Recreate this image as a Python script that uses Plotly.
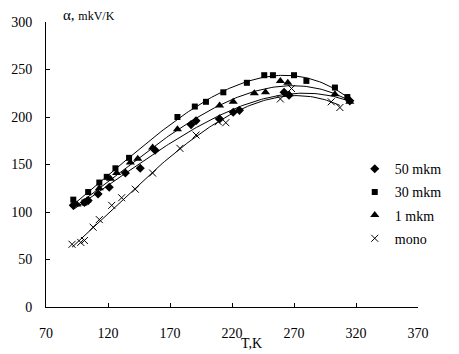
import numpy as np
import plotly.graph_objects as go

# 50 mkm (diamonds)
T_50 = [92, 101, 104, 112, 121, 134, 146, 158, 187, 191, 210, 221, 226, 262, 266, 315]
A_50 = [107, 110, 112, 119, 126, 141, 146, 165, 192, 196, 198, 205, 207, 226, 223, 217]
# 30 mkm (squares)
T_30 = [92, 101, 104, 113, 119, 126, 137, 176, 190, 199, 213, 232, 246, 253, 270, 280, 303, 313]
A_30 = [113, 110, 121, 131, 137, 146, 157, 200, 211, 216, 226, 236, 244, 244, 244, 238, 231, 221]
# 1 mkm (triangles)
T_1 = [95, 103, 113, 122, 127, 138, 144, 156, 176, 210, 221, 238, 247, 259, 265, 303, 315]
A_1 = [108, 112, 125, 135, 141, 152, 156, 168, 187, 212, 216, 225, 226, 238, 236, 224, 216]
# mono (crosses)
T_m = [91, 98, 101, 108, 113, 123, 131, 142, 156, 178, 191, 209, 215, 259, 268, 300, 307]
A_m = [66, 68, 70, 84, 92, 107, 115, 124, 141, 167, 181, 195, 194, 219, 230, 216, 210]

series = [
    ("50 mkm", T_50, A_50, "diamond", 7),
    ("30 mkm", T_30, A_30, "square", 6),
    ("1 mkm", T_1, A_1, "triangle-up", 8),
    ("mono", T_m, A_m, "x-thin", 7),
]

FONT = "Liberation Serif, Times New Roman, serif"
fig = go.Figure()

for name, T, A, sym, sz in series:
    T = np.array(T, float)
    A = np.array(A, float)
    c = np.polyfit(T, A, 3)
    tt = np.linspace(T.min(), T.max(), 120)
    fig.add_trace(go.Scatter(x=tt, y=np.polyval(c, tt), mode="lines",
                             line=dict(color="black", width=1), showlegend=False,
                             hoverinfo="skip"))

for name, T, A, sym, sz in series:
    mk = dict(symbol=sym, size=sz, color="black")
    if sym == "x-thin":
        mk["line"] = dict(color="black", width=1)
    fig.add_trace(go.Scatter(x=T, y=A, mode="markers", name=name, marker=mk,
                             legendgroup=name))

axis_common = dict(showgrid=False, zeroline=False, showline=True, linecolor="black",
                   linewidth=1, ticks="inside", ticklen=4, tickcolor="black",
                   tickfont=dict(family=FONT, size=14, color="black"))

fig.update_xaxes(range=[70, 370], tickvals=[70, 120, 170, 220, 270, 320, 370],
                 ticklabelstandoff=13, **axis_common)
fig.update_yaxes(range=[0, 300], tickvals=[0, 50, 100, 150, 200, 250, 300],
                 ticklabelstandoff=10, **axis_common)

fig.update_layout(
    width=459, height=354,
    margin=dict(l=46, r=12, t=22, b=47),
    plot_bgcolor="white", paper_bgcolor="white",
    font=dict(family=FONT, size=14, color="black"),
    legend=dict(x=0.83, y=0.54, xanchor="left", yanchor="top",
                font=dict(family=FONT, size=14), tracegroupgap=2,
                itemwidth=30, bgcolor="rgba(0,0,0,0)"),
    annotations=[
        dict(text="α, <span style='font-size:12px'>mkV/K</span>", x=62, y=15,
             xref="paper", yref="paper", showarrow=False, xanchor="left",
             font=dict(family=FONT, size=15)),
        dict(text="T,K", x=268, y=343, showarrow=False, font=dict(family=FONT, size=14)),
    ],
)

# convert pixel-positioned annotations to paper coords
pw, ph = 459 - 46 - 12, 354 - 22 - 47
anns = list(fig.layout.annotations)
anns[0].update(x=(62 - 46) / pw, y=(307 - 15) / ph, yanchor="middle")
anns[1].update(xref="paper", yref="paper", x=(268 - 46) / pw, y=(307 - 343) / ph,
               yanchor="middle")
fig.layout.annotations = anns

fig.write_html("out.html")
